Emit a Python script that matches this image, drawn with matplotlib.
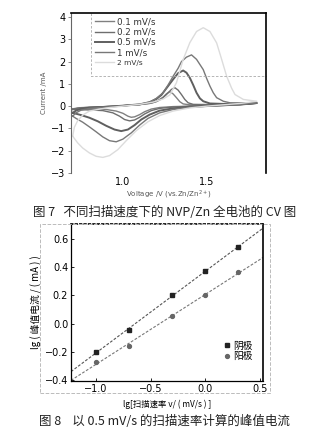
import numpy as np
import matplotlib.pyplot as plt
from matplotlib.patches import Rectangle

plt.rcParams['font.family'] = ['DejaVu Sans', 'Noto Sans CJK SC']
cjk = ['Noto Sans CJK SC', 'DejaVu Sans']

# ---- CV data (V vs Zn/Zn2+, mA) ----
rates = ['0.1 mV/s', '0.2 mV/s', '0.5 mV/s', '1 mV/s', '2 mV/s']

v01 = [0.70, 0.74, 0.80, 0.90, 1.00, 1.10, 1.15, 1.18, 1.21, 1.24, 1.26, 1.28, 1.30, 1.32, 1.34, 1.36, 1.40, 1.50, 1.60, 1.70, 1.80,
       1.70, 1.60, 1.50, 1.40, 1.30, 1.22, 1.17, 1.13, 1.10, 1.07, 1.05, 1.03, 1.00, 0.96, 0.90, 0.82, 0.74, 0.70]
i01 = [-0.12, -0.07, -0.05, -0.02, 0.02, 0.07, 0.12, 0.16, 0.26, 0.40, 0.55, 0.65, 0.55, 0.38, 0.20, 0.10, 0.06, 0.07, 0.09, 0.11, 0.13,
       0.08, 0.05, 0.02, 0.00, -0.02, -0.06, -0.13, -0.25, -0.38, -0.48, -0.50, -0.45, -0.32, -0.22, -0.15, -0.13, -0.12, -0.12]

v02 = [0.70, 0.73, 0.80, 0.90, 1.00, 1.10, 1.16, 1.20, 1.23, 1.26, 1.29, 1.31, 1.33, 1.35, 1.37, 1.39, 1.42, 1.50, 1.60, 1.70, 1.80,
       1.70, 1.60, 1.50, 1.40, 1.30, 1.22, 1.17, 1.13, 1.10, 1.07, 1.04, 1.01, 0.98, 0.94, 0.88, 0.80, 0.74, 0.70]
i02 = [-0.15, -0.09, -0.05, -0.02, 0.02, 0.07, 0.12, 0.20, 0.32, 0.52, 0.75, 0.83, 0.72, 0.52, 0.30, 0.15, 0.08, 0.07, 0.09, 0.11, 0.13,
       0.07, 0.04, 0.01, -0.01, -0.04, -0.10, -0.20, -0.35, -0.50, -0.62, -0.66, -0.60, -0.45, -0.30, -0.20, -0.17, -0.16, -0.15]

v05 = [0.70, 0.72, 0.75, 0.80, 0.90, 1.00, 1.10, 1.16, 1.20, 1.23, 1.27, 1.30, 1.33, 1.36, 1.38, 1.40, 1.42, 1.44, 1.46, 1.48, 1.52, 1.60, 1.70, 1.80,
       1.70, 1.60, 1.50, 1.40, 1.30, 1.22, 1.16, 1.11, 1.07, 1.03, 0.99, 0.95, 0.90, 0.85, 0.80, 0.75, 0.70]
i05 = [-0.30, -0.20, -0.12, -0.07, -0.03, 0.02, 0.08, 0.18, 0.32, 0.50, 0.90, 1.20, 1.48, 1.60, 1.50, 1.27, 0.95, 0.60, 0.35, 0.22, 0.12, 0.10, 0.12, 0.14,
       0.07, 0.04, 0.01, -0.03, -0.10, -0.20, -0.38, -0.60, -0.85, -1.05, -1.12, -1.05, -0.88, -0.68, -0.52, -0.40, -0.30]

v1 = [0.70, 0.72, 0.75, 0.80, 0.90, 1.00, 1.10, 1.16, 1.20, 1.24, 1.27, 1.30, 1.33, 1.35, 1.38, 1.41, 1.44, 1.48, 1.50, 1.52, 1.54, 1.56, 1.60, 1.64, 1.70, 1.80,
      1.70, 1.60, 1.50, 1.40, 1.30, 1.22, 1.15, 1.10, 1.05, 1.00, 0.96, 0.92, 0.88, 0.84, 0.80, 0.76, 0.72, 0.70]
i1 = [-0.45, -0.30, -0.18, -0.10, -0.04, 0.02, 0.08, 0.18, 0.35, 0.60, 0.95, 1.34, 1.70, 2.00, 2.20, 2.30, 2.10, 1.64, 1.25, 0.90, 0.60, 0.38, 0.22, 0.15, 0.14, 0.15,
      0.07, 0.03, -0.01, -0.05, -0.15, -0.30, -0.55, -0.85, -1.20, -1.48, -1.60, -1.55, -1.38, -1.15, -0.93, -0.72, -0.55, -0.45]

v2 = [0.70, 0.71, 0.73, 0.76, 0.80, 0.90, 1.00, 1.10, 1.18, 1.24, 1.28, 1.32, 1.36, 1.40, 1.44, 1.48, 1.52, 1.56, 1.59, 1.62, 1.65, 1.67, 1.72, 1.80,
      1.70, 1.60, 1.50, 1.40, 1.30, 1.22, 1.15, 1.08, 1.02, 0.97, 0.92, 0.88, 0.84, 0.80, 0.76, 0.73, 0.70]
i2 = [-1.35, -0.95, -0.65, -0.40, -0.22, -0.08, 0.00, 0.08, 0.18, 0.32, 0.50, 1.05, 2.09, 2.85, 3.35, 3.52, 3.35, 2.84, 2.10, 1.34, 0.80, 0.52, 0.30, 0.22,
      0.12, 0.06, 0.00, -0.08, -0.22, -0.42, -0.70, -1.10, -1.55, -1.95, -2.22, -2.30, -2.25, -2.10, -1.88, -1.65, -1.35]

cv_v = [v01, v02, v05, v1, v2]
cv_i = [i01, i02, i05, i1, i2]
cv_colors = ['#808080', '#6e6e6e', '#5f5f5f', '#787878', '#dcdcdc']
cv_widths = [1.0, 1.0, 1.4, 1.0, 1.0]

# ---- peak current vs scan rate (log-log) ----
lg_rate = [-1.0, -0.699, -0.301, 0.0, 0.301]
lg_cathode = [-0.203, -0.045, 0.20, 0.375, 0.546]
lg_anode = [-0.273, -0.16, 0.052, 0.203, 0.367]

fig = plt.figure(figsize=(3.29, 4.33), dpi=100)

# ===== Fig 7: CV =====
ax = fig.add_axes([71/329, 1-173/433, 195/329, 160/433])
for v, i, c, w, lab in zip(cv_v, cv_i, cv_colors, cv_widths, rates):
    ax.plot(v, i, color=c, lw=w, label=lab)
ax.set_xlim(0.69, 1.855)
ax.set_ylim(-3, 4.18)
ax.set_xticks([1.0, 1.5])
ax.set_yticks(range(-3, 5))
ax.tick_params(axis='x', length=0, labelsize=7, pad=3)
ax.tick_params(axis='y', length=2.5, width=0.6, labelsize=7, pad=1.5, color='#777777')
ax.spines['bottom'].set_visible(False)
ax.spines['left'].set_color('#666666')
ax.spines['left'].set_linewidth(0.8)
for s in ['top', 'right']:
    ax.spines[s].set_color('black')
    ax.spines[s].set_linewidth(1.2)
ax.set_xlabel('Voltage /V (vs.Zn/Zn$^{2+}$)', fontsize=5, color='#555555', labelpad=1)
ax.set_ylabel('Current /mA', fontsize=5, color='#555555', labelpad=3)
# dashed frame left over from the legend box
ax.plot([0.104, 0.104, 1.0], [1.0, 0.604, 0.604], transform=ax.transAxes,
        ls='--', lw=0.6, color='#aaaaaa', clip_on=False, dashes=(3, 2))
leg = ax.legend(loc='upper left', bbox_to_anchor=(0.105, 0.995), frameon=False,
                fontsize=6.3, handlelength=2.2, handletextpad=0.3, labelspacing=0.15,
                borderaxespad=0)
for t in leg.get_texts():
    t.set_color('#333333')
leg.get_texts()[-1].set_fontsize(5.3)

fig.text(0.5, 1-212/433, '图 7   不同扫描速度下的 NVP/Zn 全电池的 CV 图', family=cjk,
         fontsize=9, ha='center', va='center', color='#222222')

# ===== Fig 8: log peak current =====
fig.add_artist(Rectangle((40/329, 1-393/433), 230/329, 169/433, transform=fig.transFigure,
                         fill=False, ls='--', lw=0.7, ec='#bbbbbb'))
ax2 = fig.add_axes([71/329, 1-381/433, 192/329, 157/433])
xx = np.array([-1.23, 0.53])
kc = np.polyfit(lg_rate, lg_cathode, 1)
ka = np.polyfit(lg_rate, lg_anode, 1)
ax2.plot(xx, np.polyval(kc, xx), ls='--', lw=0.8, color='#555555', dashes=(2.5, 1.5))
ax2.plot(xx, np.polyval(ka, xx), ls='--', lw=0.8, color='#777777', dashes=(2.5, 1.5))
ax2.plot(lg_rate, lg_cathode, 's', ms=2.8, color='#222222', label='阴极')
ax2.plot(lg_rate, lg_anode, 'o', ms=2.8, color='#666666', label='阳极')
ax2.set_xlim(-1.23, 0.53)
ax2.set_ylim(-0.41, 0.71)
ax2.set_xticks([-1.0, -0.5, 0.0, 0.5])
ax2.set_yticks([-0.4, -0.2, 0.0, 0.2, 0.4, 0.6])
ax2.tick_params(labelsize=7, length=2.5, width=0.6, pad=2, direction='in')
ax2.spines['top'].set_linestyle(':')
ax2.spines['top'].set_linewidth(1.2)
ax2.spines['right'].set_linewidth(1.2)
ax2.spines['left'].set_linewidth(0.9)
ax2.spines['bottom'].set_linewidth(0.9)
ax2.set_xlabel('lg[扫描速率 v/ ( mV/s ) ]', family=cjk, fontsize=6, labelpad=4)
ax2.set_ylabel('lg ( 峰值电流 / ( mA ) )', family=cjk, fontsize=7, labelpad=2)
ax2.legend(loc='lower left', bbox_to_anchor=(0.77, 0.10), frameon=False, fontsize=7,
           handlelength=0.8, handletextpad=0.3, labelspacing=0.1, borderaxespad=0)

fig.text(0.5, 1-421/433, '图 8    以 0.5 mV/s 的扫描速率计算的峰值电流', family=cjk,
         fontsize=9, ha='center', va='center', color='#222222')

fig.savefig('out.png', dpi=100)
